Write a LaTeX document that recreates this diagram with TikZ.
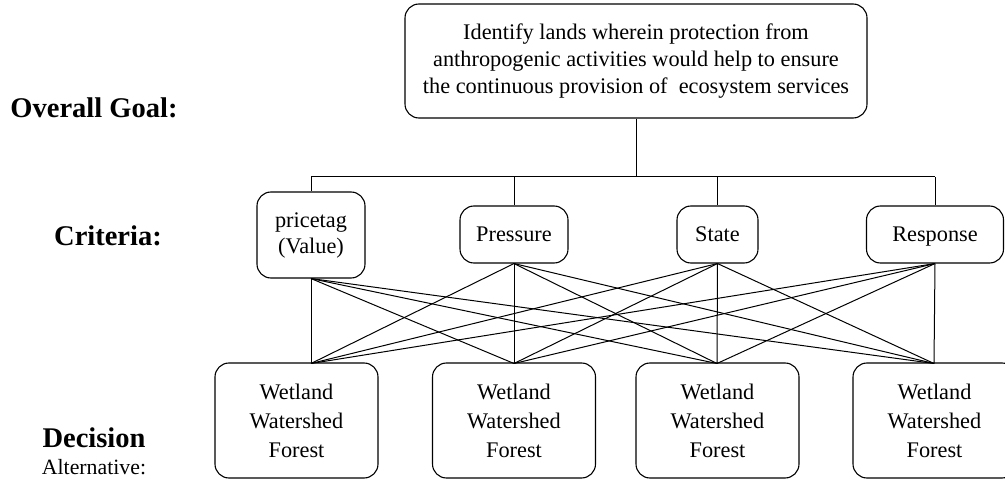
\documentclass[tikz,border=0pt]{standalone}
\usepackage{fontspec}
\setmainfont{Liberation Serif}
\usetikzlibrary{positioning}
\def\critrow{234.5}
\def\altrow{420.5}
\def\busrow{177}
\tikzstyle{box}=[draw, rounded corners=14pt, line width=1.1pt, align=center, inner sep=0pt]
\tikzstyle{goal box}=[box, minimum width=462pt, minimum height=114pt, font=\fontsize{22.3}{27}\selectfont]
\tikzstyle{criterion}=[box, minimum height=57pt, font=\fontsize{22.3}{26}\selectfont]
\tikzstyle{one line}=[text height=14.8pt, text depth=0pt]
\tikzstyle{alternative}=[box, minimum width=163pt, minimum height=115pt, font=\fontsize{22.3}{29}\selectfont]
\tikzstyle{level}=[font=\fontsize{28.5}{34}\selectfont\bfseries]
\tikzstyle{link}=[line width=1pt]
\begin{document}
\begin{tikzpicture}[x=1pt, y=-1pt]
			\useasboundingbox (0,0) rectangle (1005,481);

			% Draw the goal node
			\node[goal box] (goal) at (636,61) {Identify lands wherein protection from\\anthropogenic activities would help to ensure\\the continuous provision of~ ecosystem services};

			% Draw the criteria nodes
			\node[criterion, minimum width=108pt, minimum height=86pt] (C-1) at (311,235) {pricetag\\(Value)};
			\foreach \name / \x / \w / \txt in {2/514/108/Pressure, 3/717.5/81/State, 4/935/137/Response}
			\node[criterion, one line, minimum width=\w pt] (C-\name) at (\x,\critrow) {\txt};

			% Draw the alternative nodes
			\foreach \name / \x in {1/296.5, 2/514, 3/717.5, 4/934.5}
			\node[alternative] (A-\name) at (\x,\altrow) {Wetland\\Watershed\\Forest};

			% Tips where the links meet the alternatives
			\foreach \name / \x in {1/311, 2/514, 3/717, 4/934}
			\coordinate (T-\name) at (\x,363.5);

			% Connect the goal with every criterion
			\coordinate (bus) at (636,\busrow);
			\draw[link] (goal.south) -- (bus);
			\draw[link] (C-1.north |- bus) -- (C-4.north |- bus);
			\foreach \source in {1,...,4}
			\draw[link] (C-\source.north |- bus) -- (C-\source.north);

			% Connect every criterion with every alternative
			\foreach \source in {1,...,4}
			\foreach \dest in {1,...,4}
			\draw[link] (C-\source.south) -- (T-\dest);

			% Annotate the levels
			\node[level] (goal-label) at (94,108) {Overall Goal:};
			\node[level] (crit-label) at (108,236) {Criteria:};
			\node[level] (dec-label) at (94,437.5) {Decision};
			\node[font=\fontsize{21.8}{26}\selectfont, below of=dec-label, node distance=30pt] (alt-label) {Alternative:};
		\end{tikzpicture}
\end{document}
